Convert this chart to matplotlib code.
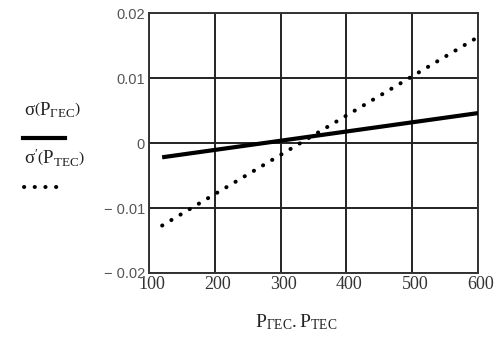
import numpy as np
import matplotlib.pyplot as plt
import matplotlib.transforms as mtransforms
from matplotlib.lines import Line2D

plt.rcParams['font.family'] = ['Liberation Serif', 'DejaVu Serif']
plt.rcParams['mathtext.fontset'] = 'custom'
plt.rcParams['mathtext.rm'] = 'Liberation Serif'
plt.rcParams['mathtext.it'] = 'Liberation Serif:italic'
plt.rcParams['mathtext.bf'] = 'Liberation Serif:bold'

# donnees
P = [120, 600]
sigma = [-0.0022, 0.0046]
sigma_p = [-0.0127, 0.0163]

x_ticks = [100, 200, 300, 400, 500, 600]
y_ticks = [-0.02, -0.01, 0, 0.01, 0.02]
y_labels = ["\u2212 0.02", "\u2212 0.01", "0", "0.01", "0.02"]

fig = plt.figure(figsize=(5.02, 3.40), dpi=100)
ax = fig.add_axes([149/502, 67/340, 329/502, 260/340])

ax.plot(P, sigma, color='black', linewidth=3.0, solid_capstyle='butt', zorder=3)
ax.plot(P, sigma_p, color='black', linewidth=2.9, linestyle=(0, (0.05, 2.6)),
        dash_capstyle='round', zorder=3)

ax.set_xlim(100, 600)
ax.set_ylim(-0.02, 0.02)
ax.set_xticks(x_ticks)
ax.set_yticks(y_ticks)
ax.set_yticklabels(y_labels, family='Liberation Sans', fontsize=10.5, color='#555555')
ax.set_xticklabels([str(v) for v in x_ticks], fontsize=13, color='#333333')
ax.grid(True, color='#222222', linewidth=1.4)
ax.set_axisbelow(True)
for s in ax.spines.values():
    s.set_color('#333333')
    s.set_linewidth(1.4)
ax.tick_params(length=0, pad=3)
ax.tick_params(axis='x', pad=2)

# petit decalage des etiquettes x vers la droite
decal = mtransforms.ScaledTranslation(3/100, 0, fig.dpi_scale_trans)
for lab in ax.get_xticklabels():
    lab.set_transform(lab.get_transform() + decal)

fig.text(0.59, 1 - 322/340, r'$\mathrm{P_{\Gamma EC}}.\mathrm{P_{TEC}}$', ha='center',
         va='center', fontsize=14, color='#222222')

# legende a gauche
fig.text(24/502, 1 - 110/340, r'$\mathrm{σ}\left(\mathrm{P_{\Gamma EC}}\right)$', ha='left',
         va='center', fontsize=13.5, color='#222222')
fig.add_artist(Line2D([23/502, 65/502], [1 - 138/340, 1 - 138/340],
                      color='black', linewidth=3.0))
fig.text(24/502, 1 - 158/340, r"$\mathrm{σ'}\left(\mathrm{P_{TEC}}\right)$", ha='left',
         va='center', fontsize=13.5, color='#222222')
fig.add_artist(Line2D([24/502, 60/502], [1 - 187/340, 1 - 187/340],
                      color='black', linewidth=2.9, linestyle=(0, (0.05, 2.6)),
                      dash_capstyle='round'))

plt.savefig("out.png", dpi=100)
